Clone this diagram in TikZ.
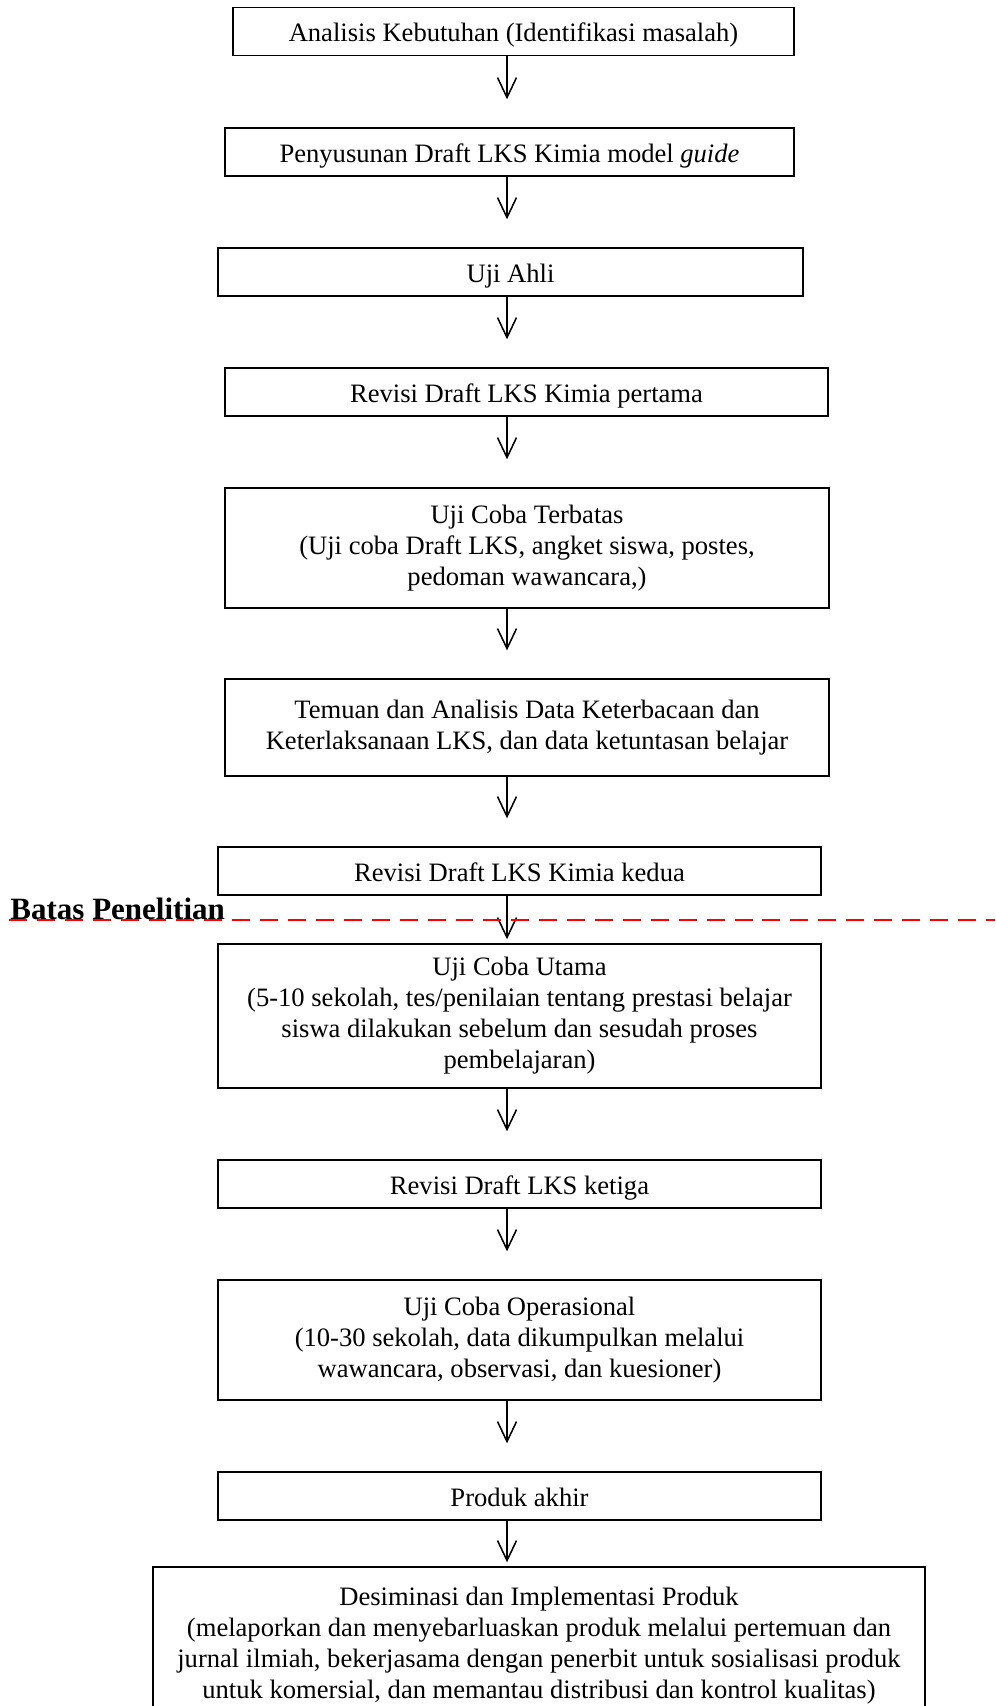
\documentclass[tikz,border=0pt]{standalone}
\usepackage{fontspec}
\setmainfont{Liberation Serif}
\usetikzlibrary{arrows.meta}

\tikzset{
  kotak/.style={draw, line width=0.7pt, inner xsep=0pt, align=center, font=\fontsize{12}{14}\selectfont},
  satubaris/.style={kotak, text height=15.4pt, text depth=6.3pt, inner ysep=0pt},
  panah/.style={-{Straight Barb[length=9pt,width=8.6pt]}, line width=0.7pt, shorten >=12.6pt},
  panahdekat/.style={panah, shorten >=1.8pt},
  batas/.style={draw=red, line width=0.7pt, dash pattern=on 8.1pt off 4.5pt},
}

\begin{document}
\begin{tikzpicture}[x=0.4515pt,y=-0.4515pt]
\useasboundingbox[fill=white] (0,0) rectangle (995,1706);
\coordinate (sumbu) at (507,0);
% Drawing boxes
% Box 1: analisis kebutuhan
\node[satubaris, minimum width=253.3pt] (analisis) at (513.5,31.5) {Analisis Kebutuhan (Identifikasi masalah)};
% Box 2: penyusunan draft
\node[satubaris, minimum width=256.9pt] (penyusunan) at (509.5,152) {Penyusunan Draft LKS Kimia model \textit{guide}};
% Box 3: uji ahli
\node[satubaris, minimum width=264.1pt] (ahli) at (510.5,272) {Uji Ahli};
% Box 4: revisi pertama
\node[satubaris, minimum width=272.3pt] (revisisatu) at (526.5,392) {Revisi Draft LKS Kimia pertama};
% Box 5: uji coba terbatas
\node[kotak, minimum width=272.7pt, minimum height=54.2pt] (terbatas) at (527,548) {Uji Coba Terbatas\\(Uji coba Draft LKS, angket siswa, postes,\\pedoman wawancara,)};
% Box 6: temuan dan analisis
\node[kotak, minimum width=272.7pt, minimum height=43.8pt] (temuan) at (527,727.5) {Temuan dan Analisis Data Keterbacaan dan\\Keterlaksanaan LKS, dan data ketuntasan belajar};
% Box 7: revisi kedua
\node[satubaris, minimum width=272.3pt] (revisidua) at (519.5,871) {Revisi Draft LKS Kimia kedua};
% Box 8: uji coba utama
\node[kotak, minimum width=272.3pt, minimum height=65pt] (utama) at (519.5,1016) {Uji Coba Utama\\(5-10 sekolah, tes/penilaian tentang prestasi belajar\\siswa dilakukan sebelum dan sesudah proses\\pembelajaran)};
% Box 9: revisi ketiga
\node[satubaris, minimum width=272.3pt] (revisitiga) at (519.5,1184) {Revisi Draft LKS ketiga};
% Box 10: uji coba operasional
\node[kotak, minimum width=272.3pt, minimum height=54.2pt] (operasional) at (519.5,1340) {Uji Coba Operasional\\(10-30 sekolah, data dikumpulkan melalui\\wawancara, observasi, dan kuesioner)};
% Box 11: produk akhir
\node[satubaris, minimum width=272.3pt] (produk) at (519.5,1496) {Produk akhir};
% Box 12: desiminasi
\node[kotak, minimum width=348.6pt, minimum height=71.3pt] (desiminasi) at (539,1646) {Desiminasi dan Implementasi Produk\\(melaporkan dan menyebarluaskan produk melalui pertemuan dan\\jurnal ilmiah, bekerjasama dengan penerbit untuk sosialisasi produk\\untuk komersial, dan memantau distribusi dan kontrol kualitas)};
% Done with boxes; drawing arrows
\draw[panah] (analisis.south -| sumbu) -- (penyusunan.north -| sumbu);
\draw[panah] (penyusunan.south -| sumbu) -- (ahli.north -| sumbu);
\draw[panah] (ahli.south -| sumbu) -- (revisisatu.north -| sumbu);
\draw[panah] (revisisatu.south -| sumbu) -- (terbatas.north -| sumbu);
\draw[panah] (terbatas.south -| sumbu) -- (temuan.north -| sumbu);
\draw[panah] (temuan.south -| sumbu) -- (revisidua.north -| sumbu);
\draw[panahdekat] (revisidua.south -| sumbu) -- (utama.north -| sumbu);
\draw[panah] (utama.south -| sumbu) -- (revisitiga.north -| sumbu);
\draw[panah] (revisitiga.south -| sumbu) -- (operasional.north -| sumbu);
\draw[panah] (operasional.south -| sumbu) -- (produk.north -| sumbu);
\draw[panahdekat] (produk.south -| sumbu) -- (desiminasi.north -| sumbu);
% Done with arrows; drawing research limit
\coordinate (batasawal) at (9,920);
\coordinate (batasakhir) at (995,920);
\draw[batas] (batasawal) -- (batasakhir);
\node[anchor=base west, inner sep=0pt, font=\fontsize{14}{16}\selectfont\bfseries] (label) at (10,919) {Batas Penelitian};
% Done with research limit
\end{tikzpicture}
\end{document}
